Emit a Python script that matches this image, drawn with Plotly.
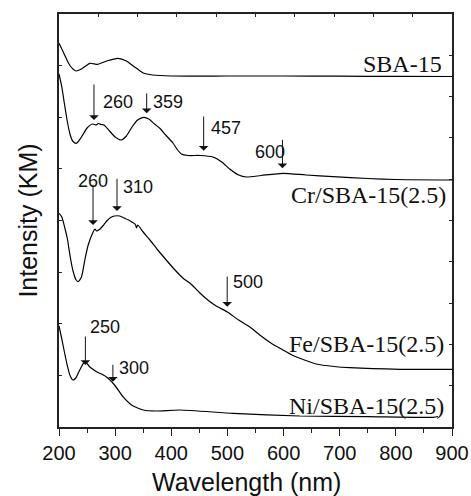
import plotly.graph_objects as go

# ---- data (wavelength nm, KM intensity in arbitrary offset units) ----
sba_wl = [200, 205, 210, 215, 220, 225, 230, 240, 255, 269, 285, 305, 320, 330, 338, 350, 367, 400, 500, 600, 700, 800, 900]
sba_y = [383.7, 378, 372, 366, 361, 358, 356, 358, 363.7, 362.7, 366, 368.7, 366, 362, 358.7, 354, 352, 351, 351, 351, 350.8, 350.6, 350.5]

cr_wl = [200, 205, 210, 215, 220, 225, 231, 240, 250, 260, 266, 270, 275, 280, 290, 300, 311, 320, 330, 340, 351, 360, 370, 380, 390, 403, 410, 418, 430, 451, 474, 490, 504, 520, 534, 560, 599, 640, 688, 750, 800, 900]
cr_y = [353, 340, 322, 305, 292, 285.5, 283.7, 290, 299, 303, 302, 303.5, 302.5, 302, 296, 290, 287, 291, 300, 307, 309.7, 308, 303, 298.5, 292, 284, 278, 273, 271.5, 271.5, 270, 265, 258, 252, 250, 251.5, 253.7, 252, 250.3, 248.5, 247.5, 247]

fe_wl = [200, 205, 210, 215, 220, 225, 230, 234, 240, 246, 252, 261, 264, 267, 272, 278, 285, 292, 299, 308, 317, 327, 336, 338, 340, 350, 362, 376, 391, 405, 421, 433, 451, 465, 480, 500, 520, 540, 560, 580, 599, 615, 629, 658, 690, 718, 807, 900]
fe_y = [213.7, 210, 200, 188, 170, 156, 147.5, 145.3, 150, 167, 182, 195.3, 198, 196, 197.5, 201, 206, 209.5, 211, 211, 208.7, 206, 202.5, 199, 202, 195, 187, 177, 167, 158, 148.7, 144, 134, 127, 121, 115, 107, 100, 91, 83, 77, 72, 68.7, 63, 60.5, 59.3, 57.7, 57.7]

ni_wl = [200, 205, 210, 215, 220, 225, 230, 237, 246, 255, 267, 284, 299, 314, 329, 340, 350, 373, 415, 510, 629, 750, 867, 875]
ni_y = [101, 88, 74, 61, 51, 47, 49, 57, 65.3, 60, 55.3, 50.3, 42, 30.3, 22, 19, 17, 16, 17, 13.7, 11, 10.3, 9.7, 10.5]

# sample labels: (text, x nm right edge, y)
sample_names = ["SBA-15", "Cr/SBA-15(2.5)", "Fe/SBA-15(2.5)", "Ni/SBA-15(2.5)"]
sample_x = [886, 893, 890, 890]
sample_y = [363, 232, 82.7, 21]

# peak markers: label, label x (left), label y, arrow x, arrow tail y, arrow tip y
peak_text = ["260", "359", "457", "600", "260", "310", "500", "250", "300"]
peak_tx = [275.5, 364.6, 466.7, 545, 231, 311, 507, 251.7, 303.3]
peak_ty = [325.3, 325.3, 299, 275.3, 246, 240.3, 145.3, 99.7, 59.3]
arrow_x = [262.3, 356.2, 457.7, 598, 260.6, 303.3, 499.6, 247, 296]
arrow_tail = [344, 335, 312, 288.7, 243.7, 249.7, 152, 92, 63.7]
arrow_tip = [307, 313.7, 276.3, 258.7, 202, 216, 120.3, 62, 45.3]

Y_MAX = 413
AX = "#222222"

fig = go.Figure()
for wl, yy in [(sba_wl, sba_y), (cr_wl, cr_y), (fe_wl, fe_y), (ni_wl, ni_y)]:
    fig.add_trace(go.Scatter(x=wl, y=yy, mode="lines", line=dict(color="black", width=1.2, shape="spline", smoothing=0.6),
                             showlegend=False, hoverinfo="skip"))

# invisible trace to activate secondary axes
fig.add_trace(go.Scatter(x=[0], y=[0], xaxis="x2", yaxis="y2", mode="markers", marker=dict(opacity=0), showlegend=False, hoverinfo="skip"))

ann = []
for t, x, y in zip(sample_names, sample_x, sample_y):
    ann.append(dict(x=x, y=y, xref="x", yref="y", text=t, showarrow=False, xanchor="right", yanchor="middle",
                    font=dict(family="Liberation Serif, Times New Roman, serif", size=24, color="#111")))
for t, x, y in zip(peak_text, peak_tx, peak_ty):
    ann.append(dict(x=x, y=y, xref="x", yref="y", text=t, showarrow=False, xanchor="left", yanchor="middle",
                    font=dict(family="Liberation Sans, Arial, sans-serif", size=18, color="#111")))
for x, a, b in zip(arrow_x, arrow_tail, arrow_tip):
    ann.append(dict(x=x, y=b, ax=x, ay=a, xref="x", yref="y", axref="x", ayref="y", text="", showarrow=True,
                    arrowhead=1, arrowsize=1.6, arrowwidth=1, arrowcolor="#111", standoff=0, startstandoff=0))
ann.append(dict(x=-0.0797, y=0.499, xref="paper", yref="paper", text="Intensity (KM)", textangle=-90, showarrow=False,
                xanchor="center", yanchor="middle", font=dict(family="Liberation Sans, Arial, sans-serif", size=25, color="#111")))
ann.append(dict(x=0.477, y=-0.132, xref="paper", yref="paper", text="Wavelength (nm)", showarrow=False,
                xanchor="center", yanchor="middle", font=dict(family="Liberation Sans, Arial, sans-serif", size=25, color="#111")))

fig.update_layout(
    width=471, height=496,
    margin=dict(l=59, r=19, t=14, b=69, autoexpand=False),
    plot_bgcolor="white", paper_bgcolor="white",
    annotations=ann,
    xaxis=dict(range=[200, 900], tickmode="linear", tick0=200, dtick=100, ticks="outside", ticklen=7, tickwidth=1.3,
               tickcolor=AX, showline=True, linecolor=AX, linewidth=1.6, showgrid=False, zeroline=False, automargin=False,
               tickfont=dict(family="Liberation Sans, Arial, sans-serif", size=20, color="#111"),
               minor=dict(dtick=50, ticks="outside", ticklen=4, tickwidth=1.3, tickcolor=AX, showgrid=False)),
    yaxis=dict(range=[0, Y_MAX], tickmode="array", tickvals=[Y_MAX * i / 8 for i in range(1, 8)], ticks="inside",
               ticklen=3, tickwidth=1, tickcolor=AX, showticklabels=False, showline=True, linecolor=AX, linewidth=1.6,
               showgrid=False, zeroline=False, automargin=False),
    xaxis2=dict(overlaying="x", side="top", range=[0, 10], tickmode="linear", tick0=0, dtick=1, ticks="inside",
                ticklen=3, tickwidth=1, tickcolor=AX, showticklabels=False, showline=True, linecolor=AX, linewidth=1.6,
                showgrid=False, zeroline=False, automargin=False),
    yaxis2=dict(overlaying="y", side="right", range=[0, 10], tickmode="linear", tick0=0, dtick=1, ticks="inside",
                ticklen=3, tickwidth=1, tickcolor=AX, showticklabels=False, showline=True, linecolor=AX, linewidth=1.6,
                showgrid=False, zeroline=False, automargin=False),
)

fig.write_html("out.html")
